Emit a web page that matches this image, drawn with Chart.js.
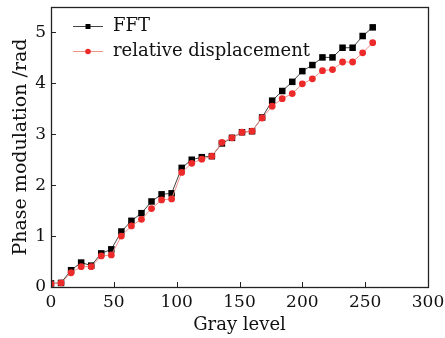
<!DOCTYPE html>
<html>
<head>
<meta charset="utf-8">
<script src="https://cdn.jsdelivr.net/npm/chart.js@4.4.1/dist/chart.umd.min.js"></script>
<style>
    html, body { margin: 0; padding: 0; background: #fff; }
    #wrap { width: 445px; height: 338px; }
</style>
</head>
<body>
<div id="wrap"><canvas id="chart" width="445" height="338"></canvas></div>
<script>
// gray levels sampled every 8 steps
const grayLevels = [0, 8, 16, 24, 32, 40, 48, 56, 64, 72, 80, 88, 96, 104, 112, 120, 128,
    136, 144, 152, 160, 168, 176, 184, 192, 200, 208, 216, 224, 232, 240, 248, 256];
const fftPhase = [0.07, 0.08, 0.33, 0.48, 0.42, 0.66, 0.74, 1.09, 1.30, 1.45, 1.68, 1.82, 1.84, 2.34, 2.50, 2.55, 2.57,
    2.82, 2.93, 3.04, 3.06, 3.33, 3.66, 3.85, 4.03, 4.24, 4.36, 4.51, 4.51, 4.70, 4.70, 4.93, 5.10];
const dispPhase = [0.06, 0.08, 0.28, 0.40, 0.40, 0.61, 0.63, 1.00, 1.20, 1.33, 1.54, 1.71, 1.73, 2.25, 2.43, 2.51, 2.57,
    2.84, 2.93, 3.04, 3.06, 3.32, 3.55, 3.70, 3.80, 3.99, 4.09, 4.25, 4.27, 4.42, 4.42, 4.60, 4.80];
const xTicks = [0, 50, 100, 150, 200, 250, 300];
const yTicks = [0, 1, 2, 3, 4, 5];
const seriesNames = ['FFT', 'relative displacement'];

const FONT = '"DejaVu Serif", "Liberation Serif", serif';

function toPoints(xs, ys) {
    return xs.map((x, i) => ({ x: x, y: ys[i] }));
}

// inward tick marks + full frame
const framePlugin = {
    id: 'frame',
    afterDatasetsDraw(chart) {
        const { ctx, chartArea: a, scales } = chart;
        ctx.save();
        ctx.strokeStyle = '#222';
        ctx.lineWidth = 1;
        ctx.beginPath();
        xTicks.forEach(v => {
            const px = Math.round(scales.x.getPixelForValue(v)) + 0.5;
            ctx.moveTo(px, a.bottom);
            ctx.lineTo(px, a.bottom - 5);
        });
        yTicks.forEach(v => {
            const py = Math.round(scales.y.getPixelForValue(v)) + 0.5;
            ctx.moveTo(a.left, py);
            ctx.lineTo(a.left + 5, py);
        });
        ctx.stroke();
        ctx.lineWidth = 1.3;
        ctx.strokeRect(a.left + 0.5, a.top + 0.5, a.right - a.left, a.bottom - a.top);
        ctx.restore();
    }
};

// legend drawn inside the plot, top left
const legendPlugin = {
    id: 'insideLegend',
    afterDraw(chart) {
        const { ctx, chartArea: a } = chart;
        const rows = [
            { ds: chart.data.datasets[1], y: a.top + 19 },
            { ds: chart.data.datasets[0], y: a.top + 44 }
        ];
        ctx.save();
        rows.forEach(r => {
            const x0 = a.left + 22, x1 = a.left + 52, xm = (x0 + x1) / 2;
            ctx.strokeStyle = r.ds.borderColor;
            ctx.lineWidth = 1;
            ctx.beginPath();
            ctx.moveTo(x0, r.y + 0.5);
            ctx.lineTo(x1, r.y + 0.5);
            ctx.stroke();
            ctx.fillStyle = r.ds.pointBackgroundColor;
            if (r.ds.pointStyle === 'rect') {
                ctx.fillRect(xm - 2.5, r.y - 2, 5, 5);
            } else {
                ctx.beginPath();
                ctx.arc(xm, r.y + 0.5, 2.8, 0, Math.PI * 2);
                ctx.fill();
            }
            ctx.fillStyle = '#111';
            ctx.font = '18px ' + FONT;
            ctx.textBaseline = 'middle';
            ctx.fillText(r.ds.label, a.left + 62, r.y);
        });
        ctx.restore();
    }
};

new Chart(document.getElementById('chart'), {
    type: 'scatter',
    data: {
        datasets: [
            {
                label: seriesNames[1],
                data: toPoints(grayLevels, dispPhase),
                showLine: true,
                borderColor: '#f4928a',
                borderWidth: 1,
                pointStyle: 'circle',
                pointRadius: 3.4,
                pointBackgroundColor: '#ec2a2a',
                pointBorderWidth: 0,
                order: 1
            },
            {
                label: seriesNames[0],
                data: toPoints(grayLevels, fftPhase),
                showLine: true,
                borderColor: '#444',
                borderWidth: 1,
                pointStyle: 'rect',
                pointRadius: 4.6,
                pointBackgroundColor: '#000',
                pointBorderWidth: 0,
                order: 2
            }
        ]
    },
    options: {
        responsive: false,
        animation: false,
        layout: { padding: { top: 7, right: 17, left: 0, bottom: 0 } },
        plugins: {
            legend: { display: false },
            tooltip: { enabled: false }
        },
        scales: {
            x: {
                type: 'linear',
                min: 0,
                max: 300,
                afterBuildTicks: s => { s.ticks = xTicks.map(v => ({ value: v })); },
                afterFit: s => { s.height = 51; s.paddingLeft = 0; s.paddingRight = 0; },
                grid: { display: false, drawTicks: false },
                border: { display: false },
                ticks: { color: '#111', font: { family: FONT, size: 17 }, padding: 5, maxRotation: 0 },
                title: { display: true, text: 'Gray level', color: '#111', font: { family: FONT, size: 18 }, padding: { top: 0, bottom: 2 } }
            },
            y: {
                type: 'linear',
                min: 0,
                max: 5.5,
                afterBuildTicks: s => { s.ticks = yTicks.map(v => ({ value: v })); },
                afterFit: s => { s.width = 51; s.paddingTop = 0; s.paddingBottom = 0; },
                grid: { display: false, drawTicks: false },
                border: { display: false },
                ticks: { color: '#111', font: { family: FONT, size: 17 }, padding: 5 },
                title: { display: true, text: 'Phase modulation /rad', color: '#111', font: { family: FONT, size: 19 }, padding: { top: 10, bottom: 0 } }
            }
        }
    },
    plugins: [framePlugin, legendPlugin]
});
</script>
</body>
</html>
